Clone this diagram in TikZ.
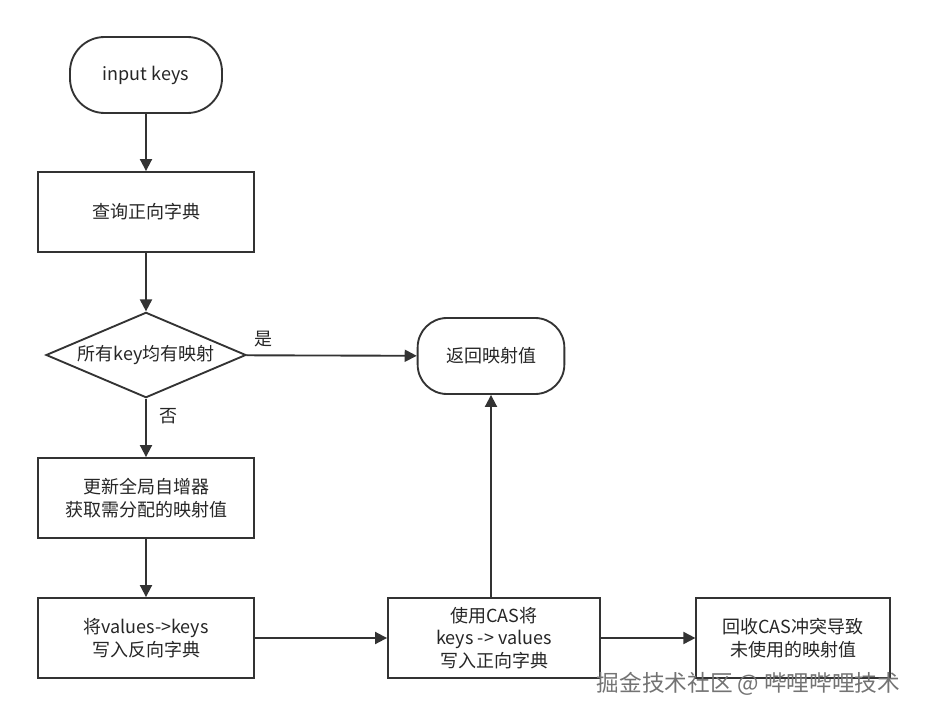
\documentclass[tikz,border=0pt]{standalone}
\usepackage{fontspec}
\setmainfont{Noto Sans CJK SC}
\usetikzlibrary{shapes.geometric,arrows.meta}
\begin{document}
\begin{tikzpicture}[x=0.75pt,y=-0.75pt,
  every node/.style={font=\fontsize{13.5}{17}\selectfont,align=center,text=black!85},
  box/.style={draw=black!80,line width=1.4pt,minimum width=162pt,minimum height=60pt},
  rnd/.style={box,rounded corners=22pt},
  dia/.style={draw=black!80,line width=1.4pt,diamond,aspect=2.33,minimum width=150pt,minimum height=64pt,inner sep=0pt},
  arr/.style={draw=black!80,line width=1.4pt,-{Triangle[length=9pt,width=9pt]}}]
\useasboundingbox (0,0) rectangle (925,717);
\node[rnd,minimum width=114pt,minimum height=57pt,rounded corners=26pt] (in) at (146,75) {input keys};
\node[box] (q) at (146,212) {查询正向字典};
\node[dia] (d) at (146,355) {所有key均有映射};
\node[rnd,minimum width=110pt,minimum height=57pt] (r) at (491,356) {返回映射值};
\node[box] (u) at (146,498) {更新全局自增器\\获取需分配的映射值};
\node[box] (w) at (146,638) {将values->keys\\写入反向字典};
\node[box,minimum width=159pt] (c) at (494,638) {使用CAS将\\keys -> values\\写入正向字典};
\node[box,minimum width=145pt] (g) at (793,638) {回收CAS冲突导致\\未使用的映射值};
\draw[arr] (in) -- (q);
\draw[arr] (q) -- (d);
\draw[arr] (d) -- node[pos=0.3,right=6pt]{否} (u);
\draw[arr] (d) -- node[pos=0.1,above=2pt]{是} (r);
\draw[arr] (u) -- (w);
\draw[arr] (w) -- (c);
\draw[arr] (c.north -| r) -- (r);
\draw[arr] (c) -- (g);
\node[text=black!55,font=\fontsize{17}{20}\selectfont,anchor=east] (wm) at (905,684) {掘金技术社区 @ 哔哩哔哩技术};
\end{tikzpicture}
\end{document}
